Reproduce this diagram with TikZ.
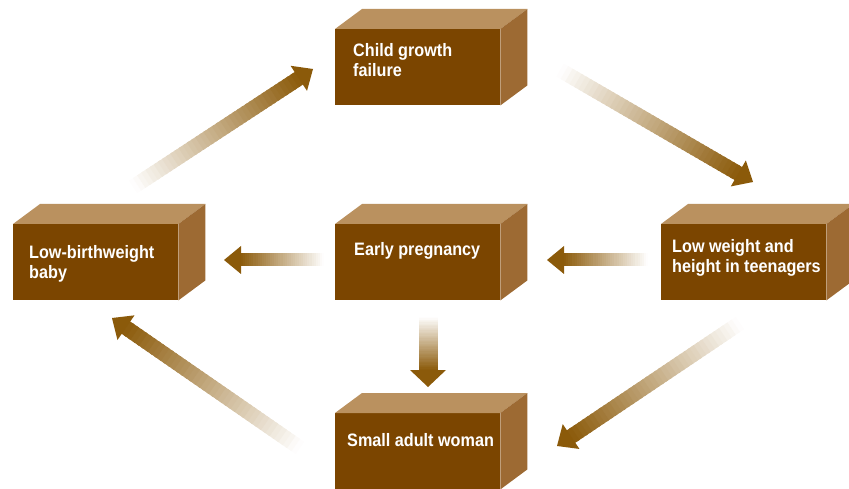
\documentclass[tikz,border=0pt]{standalone}
\usepackage{fontspec}
\usepackage{tikz}
\usetikzlibrary{positioning,calc}
\newfontfamily\boxfont[FakeStretch=0.9]{Liberation Sans}
\definecolor{frontbrown}{HTML}{7B4500}
\definecolor{topbrown}{HTML}{BA915F}
\definecolor{sidebrown}{HTML}{9D6A33}
\definecolor{arrowbrown}{HTML}{8B5A0A}
\tikzset{
  box/.style={rectangle, fill=frontbrown, minimum width=165pt, minimum height=76pt, inner sep=0pt, anchor=north west},
  boxtext/.style={text=white, align=left, inner sep=0pt, font=\boxfont\bfseries\fontsize{18}{20}\selectfont},
  topface/.style={fill=topbrown},
  sideface/.style={fill=sidebrown}
}
\newcommand{\gradarrow}[4]{%
  \coordinate (shaft-end) at ($(#2)!17pt!(#1)$);
  \foreach \i in {0,...,39}{
    \pgfmathtruncatemacro{\pc}{100*(\i+0.5)/40}
    \pgfmathsetmacro{\fa}{\i/40}
    \pgfmathsetmacro{\fb}{(\i+1.5)/40}
    \draw[line width=#3, draw=arrowbrown!\pc!white] ($(#1)!\fa!(shaft-end)$) -- ($(#1)!\fb!(shaft-end)$);
  }
  \fill[arrowbrown] (#2) -- ($(shaft-end)!#4!90:(#2)$) -- ($(shaft-end)!#4!-90:(#2)$) -- cycle;
}
\begin{document}
\begin{tikzpicture}[x=1pt,y=-1pt]
\useasboundingbox (0,0) rectangle (849,489);
\node[box] (cgf) at (335,29) {};
\node[box] (lbw) at (13,224) {};
\node[box] (ep) at (335,224) {};
\node[box] (lwh) at (661,224) {};
\node[box] (saw) at (335,413) {};
\foreach \b in {cgf,lbw,ep,lwh,saw}{
  \fill[topface] (\b.north west) -- ++(27,-20) -- ($(\b.north east)+(27,-20)$) -- (\b.north east) -- cycle;
  \fill[sideface] (\b.north east) -- ++(27,-20) -- ($(\b.south east)+(27,-20)$) -- (\b.south east) -- cycle;
}
\node[boxtext, below right=14pt and 18pt of cgf.north west] (cgf-t) {Child growth\\failure};
\node[boxtext, below right=21pt and 16pt of lbw.north west] (lbw-t) {Low-birthweight\\baby};
\node[boxtext, below right=18pt and 19pt of ep.north west] (ep-t) {Early pregnancy};
\node[boxtext, below right=15pt and 11pt of lwh.north west] (lwh-t) {Low weight and\\height in teenagers};
\node[boxtext, below right=20pt and 12pt of saw.north west] (saw-t) {Small adult woman};
\coordinate (lbw-out) at (133,187);
\coordinate (cgf-in) at (313,69);
\coordinate (cgf-out) at (560,70);
\coordinate (lwh-in) at (753,182);
\coordinate (lwh-out) at (648,260);
\coordinate (ep-in) at (547,260);
\coordinate (ep-out) at (324,260);
\coordinate (lbw-in) at (224,260);
\coordinate (ep-down) at (428,317);
\coordinate (saw-top) at (428,387);
\coordinate (lwh-down) at (740,323);
\coordinate (saw-in) at (557,446);
\coordinate (saw-out) at (300,448);
\coordinate (lbw-up) at (112,318);
\gradarrow{lbw-out}{cgf-in}{15pt}{15pt}
\gradarrow{cgf-out}{lwh-in}{15pt}{15pt}
\gradarrow{lwh-out}{ep-in}{13pt}{14pt}
\gradarrow{ep-out}{lbw-in}{13pt}{14pt}
\gradarrow{ep-down}{saw-top}{19pt}{18pt}
\gradarrow{lwh-down}{saw-in}{15pt}{15pt}
\gradarrow{saw-out}{lbw-up}{15pt}{15pt}
\end{tikzpicture}
\end{document}
